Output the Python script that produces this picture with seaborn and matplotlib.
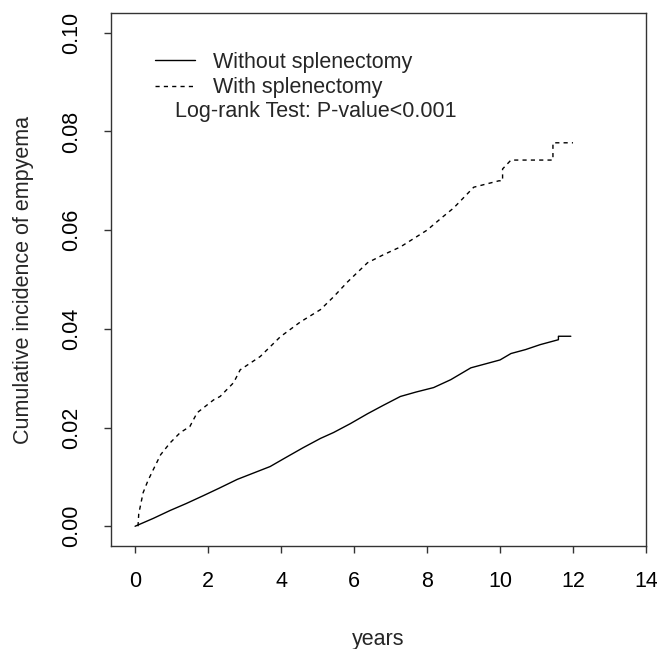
import matplotlib
matplotlib.use("Agg")
import matplotlib.pyplot as plt
import seaborn as sns
import pandas as pd

# Without splenectomy (solid)
years_without = [0.0, 0.25, 0.5, 0.96, 1.4, 1.87, 2.3, 2.8, 3.25, 3.7, 4.1, 4.6,
                 5.08, 5.44, 5.9, 6.37, 6.8, 7.27, 7.7, 8.18, 8.65, 9.2, 9.6,
                 10.0, 10.3, 10.7, 11.1, 11.4, 11.6, 11.6, 11.94]
inc_without = [0.0, 0.0008, 0.0016, 0.0032, 0.0046, 0.0062, 0.0077, 0.0095, 0.0108,
               0.0121, 0.0138, 0.0159, 0.0178, 0.0190, 0.0208, 0.0228, 0.0245, 0.0263,
               0.0272, 0.0281, 0.0297, 0.0321, 0.0329, 0.0337, 0.0350, 0.0358, 0.0368,
               0.0374, 0.0378, 0.0385, 0.0385]

# With splenectomy (dashed)
years_with = [0.08, 0.1, 0.22, 0.35, 0.5, 0.7, 0.96, 1.24, 1.5, 1.7, 2.15, 2.33, 2.7,
              2.88, 3.43, 3.98, 4.53, 5.08, 5.44, 5.82, 6.37, 6.8, 7.27, 8.0, 8.4,
              8.73, 9.28, 9.97, 10.07, 10.07, 10.3, 11.45, 11.45, 12.0]
inc_with = [0.0, 0.0025, 0.0068, 0.0092, 0.0115, 0.0145, 0.0169, 0.0190, 0.0202,
            0.0230, 0.0256, 0.0263, 0.0291, 0.0317, 0.0344, 0.0384, 0.0414, 0.0439,
            0.0465, 0.0495, 0.0534, 0.0550, 0.0566, 0.0600, 0.0625, 0.0645, 0.0687,
            0.0700, 0.0700, 0.0724, 0.0742, 0.0742, 0.0777, 0.0777]

labels = ["Without splenectomy", "With splenectomy"]
x_ticks = [0, 2, 4, 6, 8, 10, 12, 14]
y_ticks = [0.00, 0.02, 0.04, 0.06, 0.08, 0.10]
y_tick_labels = ["0.00", "0.02", "0.04", "0.06", "0.08", "0.10"]
annotation = "Log-rank Test: P-value<0.001"

sns.set_style("white")
plt.rcParams["font.family"] = ["Liberation Sans", "DejaVu Sans"]
FS = 15.5

df_wo = pd.DataFrame({"years": years_without, "inc": inc_without})
df_w = pd.DataFrame({"years": years_with, "inc": inc_with})

fig = plt.figure(figsize=(6.57, 6.49), dpi=100)
ax = fig.add_axes([111 / 657, 1 - 546 / 649, 535 / 657, 533 / 649])

sns.lineplot(data=df_wo, x="years", y="inc", ax=ax, color="black", lw=1.0,
             estimator=None, sort=False, label=labels[0])
sns.lineplot(data=df_w, x="years", y="inc", ax=ax, color="black", lw=1.0,
             linestyle=(0, (3, 3)), estimator=None, sort=False,
             label=labels[1])

ax.set_xlim(-0.66, 14)
ax.set_ylim(-0.004, 0.104)
ax.set_xticks(x_ticks)
ax.set_xticklabels([str(t) for t in x_ticks])
ax.set_yticks(y_ticks)
ax.set_yticklabels(y_tick_labels, rotation=90, va="center")

for s in ax.spines.values():
    s.set_visible(True)
    s.set_color("#333333")
    s.set_linewidth(1.0)

ax.tick_params(axis="both", direction="out", length=5, width=1.0,
               color="#333333", labelsize=FS, labelcolor="black")
ax.tick_params(axis="y", pad=16)
ax.tick_params(axis="x", pad=13)
ax.tick_params(bottom=True, left=True)

ax.set_xlabel("years", fontsize=FS)
ax.set_ylabel("Cumulative incidence of empyema", fontsize=FS)
ax.xaxis.set_label_coords(0.5, -0.176)
ax.xaxis.label.set_va("center")
ax.yaxis.set_label_coords(-0.164, 0.5)
ax.yaxis.label.set_va("center")

leg = ax.legend(loc="upper left", bbox_to_anchor=(155 / 657, 1 - 52 / 649),
                bbox_transform=fig.transFigure, frameon=False, fontsize=FS,
                handlelength=1.85, handletextpad=0.85, labelspacing=0.2,
                borderpad=0, borderaxespad=0)
ax.text(175 / 657, 1 - 111 / 649, annotation, transform=fig.transFigure,
        fontsize=FS, ha="left", va="center")

fig.savefig("out.png", dpi=100)
